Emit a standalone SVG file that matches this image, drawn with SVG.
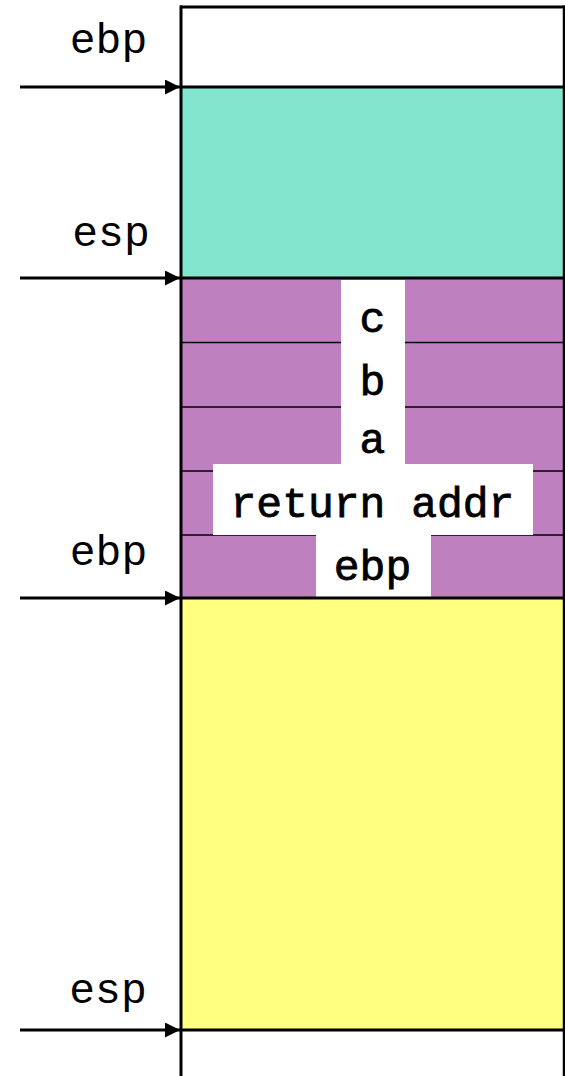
<svg xmlns="http://www.w3.org/2000/svg" width="565" height="1076" viewBox="0 0 565 1076">
<defs>
<marker id="ah" markerWidth="15" markerHeight="15" refX="15" refY="7.5" orient="auto" markerUnits="userSpaceOnUse">
<path d="M0,0 L15,7.5 L0,15 Z" fill="#000"/>
</marker>
<style>
.lbl{font-family:"Liberation Mono","Courier New",monospace;font-size:43px;fill:#000;text-anchor:middle}
.cell{font-family:"Liberation Mono","Courier New",monospace;font-size:43px;fill:#000;stroke:#000;stroke-width:0.8;text-anchor:middle}
.thin{stroke:#000;stroke-width:1.5}
.thick{stroke:#000;stroke-width:3}
.arr{stroke:#000;stroke-width:3;marker-end:url(#ah)}
</style>
</defs>
<rect width="565" height="1076" fill="#fff"/>
<g id="stack">
<g id="top-frame"><rect x="181" y="7" width="383" height="80" fill="#fff"/></g>
<g id="caller-frame"><rect x="181" y="87" width="383" height="191" fill="#82E6CE"/></g>
<g id="callee-args">
<rect x="181" y="278" width="383" height="320" fill="#BF80BF"/>
<line class="thin" x1="181" y1="342.5" x2="564" y2="342.5"/>
<line class="thin" x1="181" y1="407" x2="564" y2="407"/>
<line class="thin" x1="181" y1="471" x2="564" y2="471"/>
<line class="thin" x1="181" y1="535" x2="564" y2="535"/>
<rect x="341" y="280" width="64" height="185" fill="#fff"/>
<rect x="213" y="464" width="320" height="71" fill="#fff"/>
<rect x="316" y="534" width="115" height="65" fill="#fff"/>
<text class="cell" x="372.5" y="332">c</text>
<text class="cell" x="372.5" y="395">b</text>
<text class="cell" x="372.5" y="453">a</text>
<text class="cell" x="372.5" y="517">return addr</text>
<text class="cell" x="372.5" y="580">ebp</text>
</g>
<g id="local-frame"><rect x="181" y="598" width="383" height="432" fill="#FFFF80"/></g>
<line class="thick" x1="180" y1="7" x2="565" y2="7"/>
<line class="thick" x1="181" y1="87" x2="564" y2="87"/>
<line class="thick" x1="181" y1="278" x2="564" y2="278"/>
<line class="thick" x1="181" y1="598" x2="564" y2="598"/>
<line class="thick" x1="181" y1="1030" x2="564" y2="1030"/>
<line class="thick" x1="181" y1="5.5" x2="181" y2="1076"/>
<line x1="564" y1="5.5" x2="564" y2="1076" stroke="#000" stroke-width="2.5"/>
</g>
<g id="labels">
<text class="lbl" x="108.5" y="53">ebp</text>
<text class="lbl" x="111" y="246">esp</text>
<text class="lbl" x="108.5" y="565">ebp</text>
<text class="lbl" x="108" y="1003">esp</text>
</g>
<g id="connectors">
<line class="arr" x1="20" y1="87" x2="180" y2="87"/>
<line class="arr" x1="20" y1="278" x2="180" y2="278"/>
<line class="arr" x1="20" y1="598" x2="180" y2="598"/>
<line class="arr" x1="20" y1="1030" x2="180" y2="1030"/>
</g>
</svg>
